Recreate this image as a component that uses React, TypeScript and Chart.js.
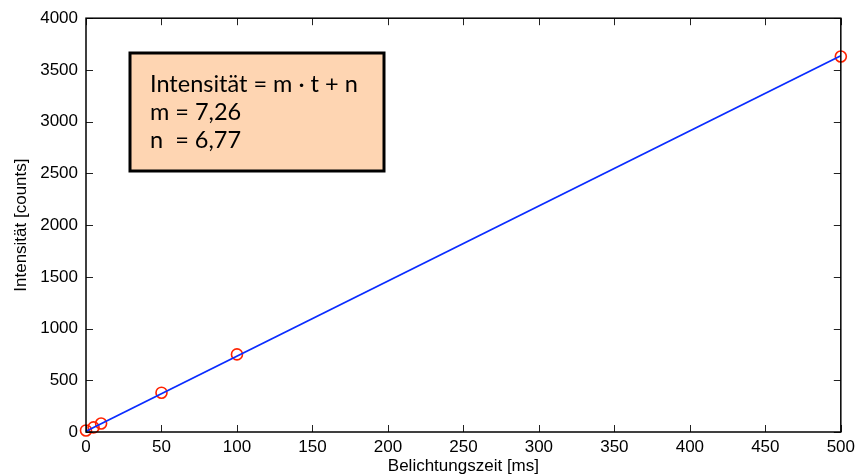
import React, { useEffect, useRef } from "react";
import { Chart, registerables } from "chart.js";

Chart.register(...registerables);

const measTime = [0, 5, 10, 50, 100, 500];
const measIntensity = [15, 45, 82, 380, 750, 3630];
const fitTime = [0, 500];
const fitIntensity = [6.77, 3636.77];
const xTicks = [0, 50, 100, 150, 200, 250, 300, 350, 400, 450, 500];
const yTicks = [0, 500, 1000, 1500, 2000, 2500, 3000, 3500, 4000];
const boxLines = ["Intensität = m · t + n", "m = 7,26", "n  = 6,77"];

const FONT = "'Liberation Sans', Arial, sans-serif";

const frameTicks = {
  id: "frameTicks",
  afterDatasetsDraw(chart: any) {
    const { ctx, chartArea: a, scales } = chart;
    ctx.save();
    ctx.strokeStyle = "#222";
    ctx.lineWidth = 1;
    const len = 7;
    ctx.beginPath();
    xTicks.forEach((v) => {
      const px = Math.round(scales.x.getPixelForValue(v)) + 0.5;
      ctx.moveTo(px, a.bottom);
      ctx.lineTo(px, a.bottom - len);
      ctx.moveTo(px, a.top);
      ctx.lineTo(px, a.top + len);
    });
    yTicks.forEach((v) => {
      const py = Math.round(scales.y.getPixelForValue(v)) + 0.5;
      ctx.moveTo(a.left, py);
      ctx.lineTo(a.left + len, py);
      ctx.moveTo(a.right, py);
      ctx.lineTo(a.right - len, py);
    });
    ctx.stroke();
    ctx.lineWidth = 1.5;
    ctx.strokeStyle = "#000";
    ctx.strokeRect(a.left, a.top, a.right - a.left, a.bottom - a.top);
    ctx.restore();
  },
  afterDraw(chart: any) {
    const { ctx } = chart;
    ctx.save();
    const bx = 130, by = 53, bw = 254, bh = 118;
    ctx.fillStyle = "#fed5b2";
    ctx.fillRect(bx, by, bw, bh);
    ctx.lineWidth = 3;
    ctx.strokeStyle = "#000";
    ctx.strokeRect(bx, by, bw, bh);
    ctx.fillStyle = "#000";
    ctx.font = "23.5px Lato, 'Open Sans', sans-serif";
    ctx.textBaseline = "middle";
    ctx.textAlign = "left";
    boxLines.forEach((t, i) => {
      ctx.fillText(t, 150, 84 + i * 28);
    });
    ctx.restore();
  },
};

export default function App() {
  const ref = useRef<HTMLCanvasElement>(null);
  useEffect(() => {
    const chart = new Chart(ref.current!, {
      type: "scatter",
      data: {
        datasets: [
          {
            type: "line",
            data: fitTime.map((x, i) => ({ x, y: fitIntensity[i] })),
            borderColor: "#0a2cff",
            borderWidth: 1.8,
            pointRadius: 0,
            fill: false,
            clip: false,
          } as any,
          {
            data: measTime.map((x, i) => ({ x, y: measIntensity[i] })),
            pointStyle: "circle",
            pointRadius: 5.5,
            borderColor: "#ff2200",
            backgroundColor: "rgba(0,0,0,0)",
            borderWidth: 1.6,
            clip: false,
          } as any,
        ],
      },
      options: {
        animation: false,
        responsive: false,
        events: [],
        layout: { padding: { left: 11, right: 16, top: 17, bottom: 0 } },
        plugins: { legend: { display: false }, tooltip: { enabled: false } },
        scales: {
          x: {
            type: "linear",
            min: 0,
            max: 500,
            afterBuildTicks: (s: any) => {
              s.ticks = xTicks.map((v) => ({ value: v }));
            },
            afterFit: (s: any) => {
              s.height = 44;
            },
            grid: { display: false, drawTicks: false },
            border: { display: false },
            ticks: {
              color: "#000",
              padding: 5,
              callback: (v: any) => String(v),
              font: { family: FONT, size: 17 },
            },
            title: {
              display: true,
              text: "Belichtungszeit [ms]",
              color: "#000",
              padding: { top: 0, bottom: -1 },
              font: { family: FONT, size: 17 },
            },
          },
          y: {
            type: "linear",
            min: 0,
            max: 4000,
            afterBuildTicks: (s: any) => {
              s.ticks = yTicks.map((v) => ({ value: v }));
            },
            afterFit: (s: any) => {
              s.width = 75;
            },
            grid: { display: false, drawTicks: false },
            border: { display: false },
            ticks: {
              color: "#000",
              padding: 8,
              callback: (v: any) => String(v),
              font: { family: FONT, size: 17 },
            },
            title: {
              display: true,
              text: "Intensität [counts]",
              color: "#000",
              padding: 0,
              font: { family: FONT, size: 17 },
            },
          },
        },
      },
      plugins: [frameTicks],
    });
    return () => chart.destroy();
  }, []);
  return (
    <div style={{ position: "fixed", left: 0, top: 0, width: 860, height: 476, background: "#fff" }}>
      <canvas ref={ref} width={860} height={476} style={{ display: "block" }} />
    </div>
  );
}
